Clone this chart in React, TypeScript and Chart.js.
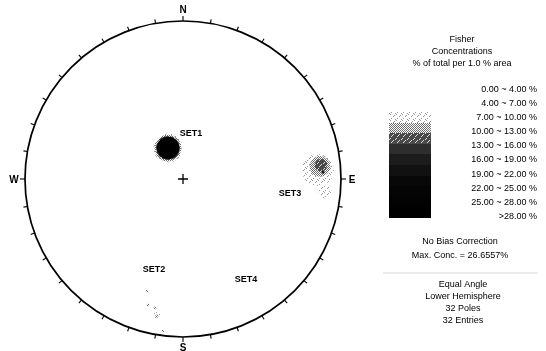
import React, { useEffect, useRef } from "react";
import { Chart, registerables } from "chart.js";
Chart.register(...registerables);

// ---------------- data ----------------
const LEVEL_LABELS = [
  "0.00 ~ 4.00 %",
  "4.00 ~ 7.00 %",
  "7.00 ~ 10.00 %",
  "10.00 ~ 13.00 %",
  "13.00 ~ 16.00 %",
  "16.00 ~ 19.00 %",
  "19.00 ~ 22.00 %",
  "22.00 ~ 25.00 %",
  "25.00 ~ 28.00 %",
  ">28.00 %",
];
const TITLE_LINES = ["Fisher", "Concentrations", "% of total per 1.0 % area"];
const MAX_CONC = 26.6557;
const N_POLES = 32;
const N_ENTRIES = 32;
const PROJECTION = "Equal Angle";
const HEMISPHERE = "Lower Hemisphere";

const COMPASS = ["N", "E", "S", "W"];
const TICK_STEP_DEG = 10;

// set labels, stereonet unit coordinates
const SET_NAMES = ["SET1", "SET2", "SET3", "SET4"];
const SET_LABEL_X = [0.051, -0.184, 0.677, 0.399];
const SET_LABEL_Y = [0.291, -0.570, -0.089, -0.639];

// density contours: x, y (unit circle), s = radius (unit circle), level index
const SET1_CONTOURS = [
  { x: -0.095, y: 0.196, s: 0.092, level: 0 },
  { x: -0.095, y: 0.196, s: 0.084, level: 1 },
  { x: -0.095, y: 0.196, s: 0.076, level: 2 },
  { x: -0.095, y: 0.196, s: 0.071, level: 9 },
];
const SET2_CONTOURS = [
  { x: -0.228, y: -0.709, s: 0.008, level: 1 },
  { x: -0.222, y: -0.797, s: 0.008, level: 1 },
  { x: -0.177, y: -0.816, s: 0.009, level: 1 },
  { x: -0.165, y: -0.862, s: 0.02, level: 0 },
  { x: -0.165, y: -0.867, s: 0.01, level: 1 },
  { x: -0.127, y: -0.962, s: 0.008, level: 1 },
];
const SET3_CONTOURS = [
  { x: 0.854, y: 0.057, s: 0.101, level: 0 },
  { x: 0.899, y: -0.082, s: 0.04, level: 0 },
  { x: 0.867, y: 0.08, s: 0.066, level: 1 },
  { x: 0.873, y: 0.088, s: 0.04, level: 2 },
  { x: 0.886, y: 0.044, s: 0.01, level: 4 },
];
const SET4_CONTOURS: { x: number; y: number; s: number; level: number }[] = [];

// ---------------- styles ----------------
const W = 546;
const H = 351;
const CX_PX = 183;
const CY_PX = 179;
const R_PX = 158;
const FONT = '"Liberation Sans", Arial, sans-serif';

function makePattern(bg: string, fg: string, cells: number[][], size: number) {
  const c = document.createElement("canvas");
  c.width = size;
  c.height = size;
  const g = c.getContext("2d")!;
  g.fillStyle = bg;
  g.fillRect(0, 0, size, size);
  g.fillStyle = fg;
  cells.forEach(([x, y]) => g.fillRect(x, y, 1, 1));
  return g.createPattern(c, "repeat")!;
}

function levelFills(): (string | CanvasPattern)[] {
  const sparse = makePattern("#ffffff", "#9a9a9a", [[0, 0], [3, 2], [1, 4], [5, 5], [4, 1]], 6);
  const checker = makePattern("#ffffff", "#6e6e6e", [[0, 0], [2, 0], [1, 1], [3, 1], [0, 2], [3, 3], [1, 3], [2, 2]], 4);
  const dark = makePattern("#4a4a4a", "#d8d8d8", [[0, 0], [3, 2], [1, 4], [5, 1], [2, 3]], 6);
  return [sparse, checker, dark, "#2e2e2e", "#1c1c1c", "#111111", "#080808", "#040404", "#020202", "#000000"];
}

const stereoPlugin = {
  id: "stereo",
  beforeDatasetsDraw(chart: any) {
    const ctx = chart.ctx as CanvasRenderingContext2D;
    const xs = chart.scales.x;
    const ys = chart.scales.y;
    const cx = xs.getPixelForValue(0);
    const cy = ys.getPixelForValue(0);
    const R = xs.getPixelForValue(1) - cx;
    ctx.save();
    ctx.strokeStyle = "#000";
    ctx.lineWidth = 1.7;
    ctx.beginPath();
    ctx.arc(cx, cy, R, 0, Math.PI * 2);
    ctx.stroke();
    ctx.lineWidth = 1.1;
    for (let a = 0; a < 360; a += TICK_STEP_DEG) {
      const t = (a * Math.PI) / 180;
      const sx = Math.sin(t);
      const sy = -Math.cos(t);
      const len = a % 90 === 0 ? 5 : 4;
      ctx.beginPath();
      ctx.moveTo(cx + sx * R, cy + sy * R);
      ctx.lineTo(cx + sx * (R + len), cy + sy * (R + len));
      ctx.stroke();
    }
    // centre cross
    ctx.lineWidth = 1.3;
    ctx.beginPath();
    ctx.moveTo(cx - 5, cy);
    ctx.lineTo(cx + 5, cy);
    ctx.moveTo(cx, cy - 5);
    ctx.lineTo(cx, cy + 5);
    ctx.stroke();
    // compass letters
    ctx.fillStyle = "#000";
    ctx.font = `bold 10px ${FONT}`;
    ctx.textAlign = "center";
    ctx.textBaseline = "middle";
    COMPASS.forEach((lab, i) => {
      const t = (i * 90 * Math.PI) / 180;
      const off = 11;
      ctx.fillText(lab, cx + Math.sin(t) * (R + off), cy - Math.cos(t) * (R + off) + (i % 2 === 1 ? 1 : 0));
    });
    ctx.restore();
  },
  afterDatasetsDraw(chart: any) {
    const ctx = chart.ctx as CanvasRenderingContext2D;
    const xs = chart.scales.x;
    const ys = chart.scales.y;
    ctx.save();
    ctx.fillStyle = "#000";
    ctx.font = `bold 9px ${FONT}`;
    ctx.textAlign = "center";
    ctx.textBaseline = "middle";
    SET_NAMES.forEach((n, i) => {
      ctx.fillText(n, xs.getPixelForValue(SET_LABEL_X[i]), ys.getPixelForValue(SET_LABEL_Y[i]));
    });

    // legend
    const fills = levelFills();
    const midX = 462;
    ctx.font = `9px ${FONT}`;
    TITLE_LINES.forEach((t, i) => ctx.fillText(t, midX, 40 + i * 12));
    ctx.textAlign = "right";
    LEVEL_LABELS.forEach((t, i) => ctx.fillText(t, 537, 89.5 + i * 14.1));
    const barX = 389;
    const barW = 42;
    const barTop = 112;
    const segH = 10.6;
    LEVEL_LABELS.forEach((_, i) => {
      ctx.fillStyle = fills[i] as any;
      ctx.fillRect(barX, Math.round(barTop + i * segH), barW, Math.round(barTop + (i + 1) * segH) - Math.round(barTop + i * segH));
    });
    ctx.fillStyle = "#000";
    ctx.textAlign = "center";
    ctx.fillText("No Bias Correction", 460, 242);
    ctx.fillText(`Max. Conc. = ${MAX_CONC.toFixed(4)}%`, 460, 256);
    ctx.lineWidth = 1.4;
    ctx.beginPath();
    ctx.moveTo(383, 273);
    ctx.lineTo(538, 273);
    ctx.stroke();
    const footer = [PROJECTION, HEMISPHERE, `${N_POLES} Poles`, `${N_ENTRIES} Entries`];
    footer.forEach((t, i) => ctx.fillText(t, 463, 285 + i * 12));
    ctx.restore();
  },
};

export default function App() {
  const ref = useRef<HTMLCanvasElement | null>(null);
  useEffect(() => {
    if (!ref.current) return;
    const fills = levelFills();
    const all = [...SET1_CONTOURS, ...SET2_CONTOURS, ...SET3_CONTOURS, ...SET4_CONTOURS];
    const radius = (c: any) => {
      const xs = c.chart.scales.x;
      const px = xs.getPixelForValue(1) - xs.getPixelForValue(0);
      return c.raw ? c.raw.s * px : 0;
    };
    const datasets = LEVEL_LABELS.map((lab, lvl) => ({
      label: lab,
      data: all.filter((p) => p.level === lvl).map((p) => ({ x: p.x, y: p.y, s: p.s })),
      order: 20 - lvl,
      backgroundColor: fills[lvl] as any,
      borderWidth: 0,
      pointRadius: radius,
      pointHoverRadius: radius,
    }));
    const chart = new Chart(ref.current, {
      type: "scatter",
      data: { datasets },
      options: {
        animation: false,
        responsive: false,
        devicePixelRatio: 1,
        events: [],
        layout: { padding: 0 },
        clip: false as any,
        plugins: { legend: { display: false }, title: { display: false }, tooltip: { enabled: false } },
        scales: {
          x: { type: "linear", display: false, min: -CX_PX / R_PX, max: (W - CX_PX) / R_PX },
          y: { type: "linear", display: false, min: -(H - CY_PX) / R_PX, max: CY_PX / R_PX },
        },
      },
      plugins: [stereoPlugin],
    });
    return () => chart.destroy();
  }, []);
  return (
    <div style={{ position: "absolute", left: 0, top: 0, width: W, height: H, background: "#fff" }}>
      <canvas ref={ref} width={W} height={H} style={{ display: "block", width: W, height: H }} />
    </div>
  );
}
